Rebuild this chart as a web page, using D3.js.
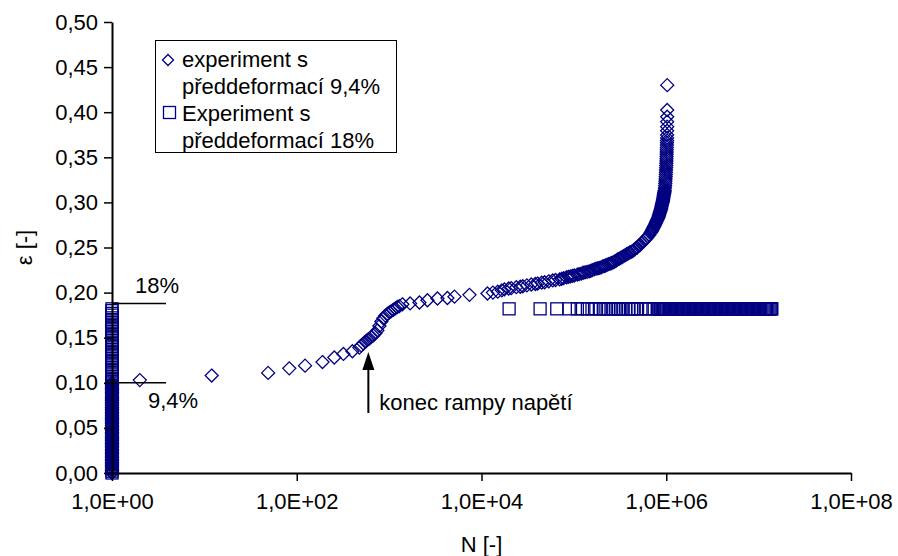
<!DOCTYPE html>
<html>
<head>
<meta charset="utf-8">
<script src="https://cdn.jsdelivr.net/npm/d3@7"></script>
<style>
  html, body { margin: 0; padding: 0; background: #fff; }
  svg { display: block; }
  text { font-family: "Liberation Sans", Arial, sans-serif; fill: #000; }
</style>
</head>
<body>
<svg id="chart" width="898" height="556"></svg>
<script>
// Axis ticks
const xTicks = [1, 1e2, 1e4, 1e6, 1e8];
const xTickLabels = ["1,0E+00", "1,0E+02", "1,0E+04", "1,0E+06", "1,0E+08"];
const yTicks = [0, 0.05, 0.10, 0.15, 0.20, 0.25, 0.30, 0.35, 0.40, 0.45, 0.50];
const yTickLabels = ["0,00", "0,05", "0,10", "0,15", "0,20", "0,25", "0,30", "0,35", "0,40", "0,45", "0,50"];

// Series names
const seriesNames = [["experiment s", "předdeformací 9,4%"], ["Experiment s", "předdeformací 18%"]];

// Pre-strain 9.4 %: strain recorded during the first loading (cycle N = 1)
const load94 = [0.000, 0.001, 0.003, 0.004, 0.006, 0.008, 0.009, 0.011, 0.012, 0.014,
  0.015, 0.017, 0.018, 0.020, 0.022, 0.023, 0.025, 0.026, 0.028, 0.029,
  0.031, 0.033, 0.034, 0.036, 0.037, 0.039, 0.040, 0.042, 0.044, 0.045,
  0.047, 0.048, 0.050, 0.051, 0.053, 0.055, 0.056, 0.058, 0.059, 0.061,
  0.062, 0.064, 0.066, 0.067, 0.069, 0.070, 0.072, 0.073, 0.075, 0.077,
  0.078, 0.080, 0.081, 0.083, 0.084, 0.086, 0.088, 0.089, 0.091, 0.092,
  0.094, 0.095, 0.097, 0.098, 0.100];

// Pre-strain 9.4 %: cycles and strain during cycling
const cycles94 = [2, 12, 49, 83, 123, 190, 255, 320, 400, 476,
  500, 526, 553, 581, 611, 642, 675, 710, 746, 784,
  824, 866, 911, 957, 1006, 1057, 1111, 1168, 1228, 1291,
  1393, 1687, 2128, 2600, 3337, 4277, 5096, 7413, 11600, 13300,
  15000, 16600, 17700, 19700, 21000, 23800, 26300, 28000, 31000, 34600,
  38300, 40500, 44800, 48200, 53400, 59000, 63300, 70100, 77500, 83500,
  92000, 101000, 109000, 120000, 132000, 146000, 158000, 174000,
  190200, 197400, 204900, 212800, 220900, 229300, 238000, 247200, 256600, 266400,
  276500, 287100, 298100, 309400, 321200, 333400, 346200, 359400, 373100, 387400,
  402100, 417500, 433500, 450000, 467100, 484900, 503500, 522700, 542600, 563300,
  584800, 607100, 630300, 654300,
  674300, 699800, 719300, 739300, 761800, 781100, 802800, 823000, 837500, 852300,
  867400, 880500, 891500, 902700, 916400, 925500, 934700, 944100, 953500, 961900,
  967900, 972800, 976400, 980000, 983900, 987600, 990000, 992500, 995000, 997500,
  1000000, 1002500, 1005000, 1006300, 1008800, 1010000, 1011300, 1012600, 1015100, 1016400,
  1017600, 1020200, 1020800, 1021500, 1022000, 1022600, 1023000, 1023400, 1024000, 1025000];
const strain94 = [0.103, 0.108, 0.111, 0.116, 0.119, 0.123, 0.128, 0.132, 0.135, 0.139,
  0.1415, 0.1435, 0.1455, 0.1475, 0.149, 0.151, 0.1525, 0.155, 0.158, 0.163,
  0.168, 0.1715, 0.1745, 0.1765, 0.178, 0.1795, 0.181, 0.1825, 0.184, 0.185,
  0.187, 0.188, 0.189, 0.1915, 0.1935, 0.194, 0.1955, 0.1975, 0.199, 0.200,
  0.201, 0.2025, 0.2035, 0.2045, 0.205, 0.206, 0.2065, 0.207, 0.208, 0.209,
  0.2095, 0.210, 0.211, 0.2115, 0.2125, 0.2135, 0.214, 0.2146, 0.216, 0.217,
  0.218, 0.219, 0.220, 0.221, 0.2225, 0.2235, 0.2249, 0.2265,
  0.2275, 0.228, 0.229, 0.2295, 0.230, 0.231, 0.2315, 0.2322, 0.2328, 0.2335,
  0.2345, 0.2355, 0.2368, 0.2375, 0.2385, 0.2395, 0.2405, 0.2415, 0.2425, 0.2435,
  0.2445, 0.2452, 0.246, 0.2475, 0.249, 0.250, 0.252, 0.253, 0.255, 0.2565,
  0.2585, 0.260, 0.262, 0.2638,
  0.266, 0.2685, 0.271, 0.2735, 0.276, 0.2785, 0.281, 0.2835, 0.286, 0.2885,
  0.291, 0.2935, 0.296, 0.2985, 0.301, 0.3035, 0.306, 0.3085, 0.311, 0.3135,
  0.316, 0.3185, 0.321, 0.3235, 0.326, 0.3285, 0.331, 0.3335, 0.336, 0.3385,
  0.341, 0.3435, 0.346, 0.3485, 0.351, 0.3535, 0.356, 0.3585, 0.361, 0.3635,
  0.366, 0.3685, 0.3715, 0.3747, 0.3795, 0.384, 0.3895, 0.395, 0.4024, 0.430];

// Pre-strain 9.4 %: further readings in the densely logged part of the test
const cyclesExtra94 = [73700, 87600, 96500, 114000, 126000, 139000, 152000, 166000, 182000,
  687000, 709500, 729300, 750500, 771400, 791900, 812900, 830200, 844900, 859800,
  873900, 886000, 897100, 909500, 920900, 930100, 939400, 948800, 957700];
const strainExtra94 = [0.2153, 0.2175, 0.2185, 0.2205, 0.222, 0.223, 0.224, 0.2257, 0.227,
  0.2673, 0.2698, 0.2723, 0.2748, 0.2773, 0.2798, 0.2823, 0.2848, 0.2873, 0.2898,
  0.2923, 0.2948, 0.2973, 0.2998, 0.3023, 0.3048, 0.3073, 0.3098, 0.3123];

// Pre-strain 18 %: strain recorded during the first loading (cycle N = 1)
const load18 = [0.000, 0.002, 0.005, 0.007, 0.010, 0.012, 0.015, 0.017, 0.020, 0.022,
  0.025, 0.027, 0.030, 0.032, 0.035, 0.037, 0.040, 0.042, 0.045, 0.047,
  0.050, 0.052, 0.055, 0.057, 0.060, 0.062, 0.065, 0.067, 0.070, 0.072,
  0.075, 0.077, 0.080, 0.082, 0.085, 0.087, 0.090, 0.092, 0.095, 0.097,
  0.100, 0.102, 0.105, 0.107, 0.110, 0.112, 0.115, 0.117, 0.120, 0.122,
  0.125, 0.127, 0.130, 0.132, 0.135, 0.137, 0.140, 0.142, 0.145, 0.147,
  0.150, 0.152, 0.155, 0.157, 0.160, 0.162, 0.165, 0.167, 0.170, 0.172,
  0.175, 0.177, 0.180, 0.182];

// Pre-strain 18 %: cycles and strain during cycling
const cycles18 = [19900, 43100, 65300, 88900, 109000, 124000, 140000, 157000, 173000, 193000,
  208000, 222000, 237000, 252000, 267000, 285000, 304000, 323000, 342000, 366000,
  390000, 421000, 450000, 489000, 532000, 592000, 643000, 741000,
  805000, 829000, 854000, 880000, 906000, 933000, 961000, 990000, 1020000, 1051000,
  1082000, 1115000, 1148000, 1182000, 1218000, 1254000, 1292000, 1331000, 1371000, 1412000,
  1454000, 1498000, 1543000, 1589000, 1637000, 1686000, 1736000, 1788000, 1842000, 1897000,
  1954000, 2013000, 2073000, 2135000, 2199000, 2265000, 2333000, 2403000, 2475000, 2550000,
  2626000, 2705000, 2786000, 2870000, 2956000, 3044000, 3136000, 3230000, 3327000, 3426000,
  3529000, 3635000, 3744000, 3856000, 3972000, 4091000, 4214000, 4340000, 4471000, 4605000,
  4743000, 4885000, 5032000, 5183000, 5338000, 5498000, 5663000, 5833000, 6008000, 6189000,
  6374000, 6566000, 6763000, 6966000, 7175000, 7390000, 7611000, 7840000, 8075000, 8317000,
  8567000, 8824000, 9089000, 9361000, 9642000, 9931000, 10230000, 10540000, 10850000, 11180000,
  11510000, 11860000, 12210000, 12580000, 12960000, 13350000, 13750000, 13900000];
const strain18 = [0.182, 0.182, 0.182, 0.182, 0.182, 0.182, 0.182, 0.182, 0.182, 0.182,
  0.182, 0.182, 0.182, 0.182, 0.182, 0.182, 0.182, 0.182, 0.182, 0.182,
  0.182, 0.182, 0.182, 0.182, 0.182, 0.182, 0.182, 0.182,
  0.182, 0.182, 0.182, 0.182, 0.182, 0.182, 0.182, 0.182, 0.182, 0.182,
  0.182, 0.182, 0.182, 0.182, 0.182, 0.182, 0.182, 0.182, 0.182, 0.182,
  0.182, 0.182, 0.182, 0.182, 0.182, 0.182, 0.182, 0.182, 0.182, 0.182,
  0.182, 0.182, 0.182, 0.182, 0.182, 0.182, 0.182, 0.182, 0.182, 0.182,
  0.182, 0.182, 0.182, 0.182, 0.182, 0.182, 0.182, 0.182, 0.182, 0.182,
  0.182, 0.182, 0.182, 0.182, 0.182, 0.182, 0.182, 0.182, 0.182, 0.182,
  0.182, 0.182, 0.182, 0.182, 0.182, 0.182, 0.182, 0.182, 0.182, 0.182,
  0.182, 0.182, 0.182, 0.182, 0.182, 0.182, 0.182, 0.182, 0.182, 0.182,
  0.182, 0.182, 0.182, 0.182, 0.182, 0.182, 0.182, 0.182, 0.182, 0.182,
  0.182, 0.182, 0.182, 0.182, 0.182, 0.182, 0.182, 0.182];

// Pre-strain level markers and end of the stress ramp
const preStrainMarks = [{ value: 0.188, label: "18%" }, { value: 0.10, label: "9,4%" }];
const rampEndCycle = 611;
const rampEndLabel = "konec rampy napětí";

const navy = "#000080";
const fontSize = 22;

const svg = d3.select("#chart");
const margin = { left: 112, right: 47, top: 22, bottom: 83 };
const W = 898, H = 556;

const x = d3.scaleLog().domain([1, 1e8]).range([margin.left, W - margin.right]);
const y = d3.scaleLinear().domain([0, 0.5]).range([H - margin.bottom, margin.top]);

// Build point lists: loading points at N = 1 followed by the cycling points
const pts94 = load94.map(e => [1, e])
  .concat(cycles94.map((n, i) => [n, strain94[i]]))
  .concat(cyclesExtra94.map((n, i) => [n, strainExtra94[i]]));
const pts18 = load18.map(e => [1, e]).concat(cycles18.map((n, i) => [n, strain18[i]]));

const r = 6.5;
const diamond = `M0,${-r}L${r},0L0,${r}L${-r},0Z`;
const sq = 6;

const gPts = svg.append("g");
gPts.selectAll("path.d94").data(pts94).join("path")
  .attr("class", "d94")
  .attr("d", diamond)
  .attr("transform", d => `translate(${x(d[0])},${y(d[1])})`)
  .attr("fill", "none").attr("stroke", navy).attr("stroke-width", 1.3);

gPts.selectAll("rect.s18").data(pts18).join("rect")
  .attr("class", "s18")
  .attr("x", d => x(d[0]) - sq).attr("y", d => y(d[1]) - sq)
  .attr("width", sq * 2).attr("height", sq * 2)
  .attr("fill", "none").attr("stroke", navy).attr("stroke-width", 1.3);

// Axes
const yAxis = d3.axisLeft(y).tickValues(yTicks)
  .tickFormat((d, i) => yTickLabels[i]).tickSize(8).tickSizeOuter(0).tickPadding(6);
const xAxis = d3.axisBottom(x).tickValues(xTicks)
  .tickFormat((d, i) => xTickLabels[i]).tickSize(8).tickSizeOuter(0).tickPadding(12);

const gy = svg.append("g").attr("transform", `translate(${margin.left},0)`).call(yAxis);
const gx = svg.append("g").attr("transform", `translate(0,${H - margin.bottom})`).call(xAxis);
[gx, gy].forEach(g => {
  g.select(".domain").attr("stroke", "#000").attr("stroke-width", 2);
  g.selectAll(".tick line").attr("stroke", "#000").attr("stroke-width", 1.5);
  g.selectAll(".tick text").attr("font-size", fontSize)
    .attr("font-family", "'Liberation Sans', Arial, sans-serif").attr("fill", "#000");
});

// Axis titles
svg.append("text").attr("x", (margin.left + W - margin.right) / 2).attr("y", 552)
  .attr("text-anchor", "middle").attr("font-size", fontSize).text("N [-]");
svg.append("text").attr("transform", `translate(32,${y(0.25)}) rotate(-90)`)
  .attr("text-anchor", "middle").attr("font-size", fontSize).text("ε [-]");

// Pre-strain reference lines with labels
const markX0 = x(1), markX1 = x(1) + 54;
preStrainMarks.forEach((m, i) => {
  svg.append("line").attr("x1", markX0).attr("x2", markX1)
    .attr("y1", y(m.value)).attr("y2", y(m.value))
    .attr("stroke", "#000").attr("stroke-width", 1.5);
  svg.append("text")
    .attr("x", i === 0 ? markX0 + 23 : markX0 + 36)
    .attr("y", i === 0 ? y(m.value) - 10 : y(m.value) + 25)
    .attr("font-size", fontSize).text(m.label);
});

// Arrow marking the end of the stress ramp
const ax = x(rampEndCycle) - 1;
svg.append("line").attr("x1", ax).attr("x2", ax).attr("y1", 413).attr("y2", 366)
  .attr("stroke", "#000").attr("stroke-width", 2);
svg.append("path").attr("d", `M${ax},352L${ax - 6},370L${ax + 6},370Z`).attr("fill", "#000");
svg.append("text").attr("x", ax + 11).attr("y", 410).attr("font-size", fontSize).text(rampEndLabel);

// Legend
const lg = svg.append("g");
lg.append("rect").attr("x", 155.5).attr("y", 40.5).attr("width", 241).attr("height", 112)
  .attr("fill", "#fff").attr("stroke", "#000").attr("stroke-width", 1);
const lr = 5.5;
lg.append("path").attr("d", `M0,${-lr}L${lr},0L0,${lr}L${-lr},0Z`)
  .attr("transform", "translate(168,60)")
  .attr("fill", "none").attr("stroke", navy).attr("stroke-width", 1.3);
lg.append("rect").attr("x", 163.5).attr("y", 106.5).attr("width", 12).attr("height", 12)
  .attr("fill", "none").attr("stroke", navy).attr("stroke-width", 1.3);
const lineY = [[67, 94], [121, 148]];
seriesNames.forEach((lines, i) => {
  lines.forEach((t, j) => {
    lg.append("text").attr("x", 182).attr("y", lineY[i][j]).attr("font-size", fontSize).text(t);
  });
});
</script>
</body>
</html>
